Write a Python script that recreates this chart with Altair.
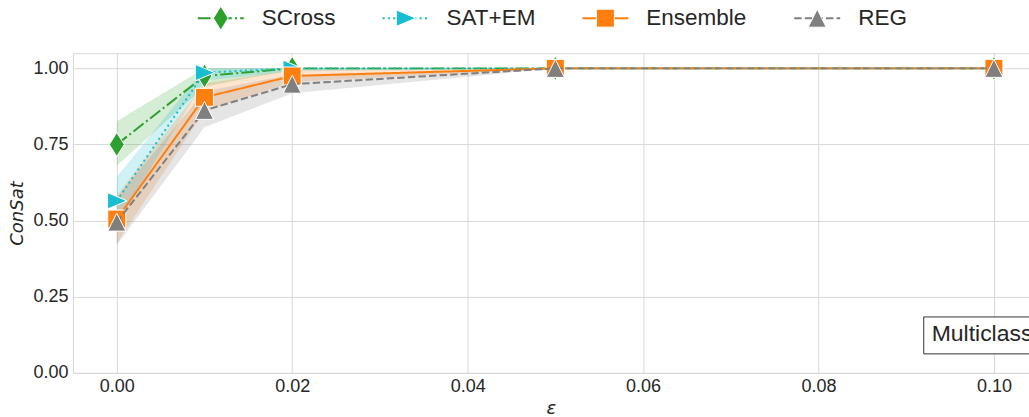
import altair as alt
import pandas as pd

# epsilon values on the x axis
eps = [0.0, 0.01, 0.02, 0.05, 0.10]

series = ["SCross", "SAT+EM", "Ensemble", "REG"]
colors = ["#2ca02c", "#17becf", "#ff7f0e", "#7f7f7f"]

# mean ConSat and the lower / upper edge of the shaded interval
scross_mean = [0.750, 0.975, 1.000, 1.000, 1.000]
scross_lo = [0.680, 0.940, 0.995, 1.000, 1.000]
scross_hi = [0.826, 1.000, 1.000, 1.000, 1.000]

satem_mean = [0.565, 0.986, 1.000, 1.000, 1.000]
satem_lo = [0.490, 0.960, 0.990, 1.000, 1.000]
satem_hi = [0.643, 1.000, 1.000, 1.000, 1.000]

ensemble_mean = [0.505, 0.905, 0.975, 1.000, 1.000]
ensemble_lo = [0.426, 0.860, 0.955, 1.000, 1.000]
ensemble_hi = [0.584, 0.950, 0.995, 1.000, 1.000]

reg_mean = [0.495, 0.862, 0.948, 1.000, 1.000]
reg_lo = [0.420, 0.807, 0.918, 1.000, 1.000]
reg_hi = [0.575, 0.925, 0.980, 1.000, 1.000]

means = [scross_mean, satem_mean, ensemble_mean, reg_mean]
los = [scross_lo, satem_lo, ensemble_lo, reg_lo]
his = [scross_hi, satem_hi, ensemble_hi, reg_hi]

# line dash pattern and marker path per series
dashes = [[12.8, 3.2, 2, 3.2], [2, 3.3], [1, 0], [7.4, 3.2]]
shapes = [
    "M0,-1L0.62,0L0,1L-0.62,0Z",
    "M1,0L-0.9,-0.8L-0.9,0.8Z",
    "square",
    "M0,-1L1,1L-1,1Z",
]
sizes = [576, 420, 324, 324]

# legend entry start offsets (pixels from the plot's left edge)
legend_starts = [125, 310, 510, 722]

rows = []
for name, m, lo, hi in zip(series, means, los, his):
    for e, a, b, c in zip(eps, m, lo, hi):
        rows.append({"eps": e, "series": name, "mean": a, "lo": b, "hi": c})
df = pd.DataFrame(rows)

FONT = "Liberation Sans"
TXT = "#262626"
GRID = "#d9d9d9"

x_scale = alt.Scale(domain=[-0.005, 0.104], nice=False, zero=False)
y_scale = alt.Scale(domain=[0, 1.05], nice=False)

x_axis = alt.Axis(
    values=[0.0, 0.02, 0.04, 0.06, 0.08, 0.10], format=".2f", title="ε",
    titleFont="DejaVu Sans", titleFontStyle="italic", titleFontWeight="normal",
    titleFontSize=18, titleColor=TXT, titlePadding=4,
    labelFont=FONT, labelFontSize=18, labelColor=TXT, labelPadding=5,
    ticks=False, domain=False, grid=True, gridColor=GRID, gridWidth=1,
)
y_axis = alt.Axis(
    values=[0.0, 0.25, 0.5, 0.75, 1.0], format=".2f", title="ConSat",
    titleFont="DejaVu Sans", titleFontStyle="italic", titleFontWeight="normal",
    titleFontSize=18, titleColor=TXT, titlePadding=6,
    labelFont=FONT, labelFontSize=18, labelColor=TXT, labelPadding=5,
    ticks=False, domain=False, grid=True, gridColor=GRID, gridWidth=1,
)

color_scale = alt.Scale(domain=series, range=colors)

bands = alt.Chart(df).mark_area(opacity=0.2).encode(
    x=alt.X("eps:Q", scale=x_scale, axis=x_axis),
    y=alt.Y("lo:Q", scale=y_scale, axis=y_axis),
    y2="hi:Q",
    color=alt.Color("series:N", scale=color_scale, legend=None),
    detail="series:N",
)

layers = [bands]
for name, col, dash, shp, sz in zip(series, colors, dashes, shapes, sizes):
    sub = df[df["series"] == name]
    base = alt.Chart(sub).encode(x=alt.X("eps:Q", scale=x_scale), y=alt.Y("mean:Q", scale=y_scale))
    layers.append(base.mark_line(color=col, strokeWidth=2, strokeDash=dash))
    layers.append(base.mark_point(shape=shp, size=sz, filled=True, fill=col, opacity=1,
                                  stroke="white", strokeWidth=1))

# legend row above the plot
LEG_Y = -35
for name, col, dash, shp, sz, s in zip(series, colors, dashes, shapes, sizes, legend_starts):
    one = pd.DataFrame({"label": [name]})
    c = alt.Chart(one)
    layers.append(c.mark_rule(color=col, strokeWidth=2, strokeDash=dash).encode(
        x=alt.value(s), x2=alt.value(s + 46), y=alt.value(LEG_Y)))
    layers.append(c.mark_point(shape=shp, size=sz, filled=True, fill=col, opacity=1,
                               stroke="white", strokeWidth=1).encode(
        x=alt.value(s + 23), y=alt.value(LEG_Y)))
    layers.append(c.mark_text(align="left", baseline="middle", font=FONT, fontSize=22.5,
                              color=TXT).encode(
        x=alt.value(s + 64), y=alt.value(LEG_Y), text="label:N"))

# boxed annotation in the lower right corner
box_x = [0.0920]
box_x2 = [0.1200]
box_y = [0.0623]
box_y2 = [0.1836]
label_x = [0.0929]
label_y = [0.1275]
box_df = pd.DataFrame({"x": box_x, "x2": box_x2, "y": box_y, "y2": box_y2,
                       "lx": label_x, "ly": label_y, "t": ["Multiclass"]})
layers.append(alt.Chart(box_df).mark_rect(fill="white", stroke="#333333", strokeWidth=1).encode(
    x=alt.X("x:Q", scale=x_scale), x2="x2:Q",
    y=alt.Y("y:Q", scale=y_scale), y2="y2:Q"))
layers.append(alt.Chart(box_df).mark_text(align="left", baseline="middle", font=FONT,
                                          fontSize=23, color=TXT).encode(
    x=alt.X("lx:Q", scale=x_scale), y=alt.Y("ly:Q", scale=y_scale), text="t:N"))

chart = alt.layer(*layers).properties(
    width=957, height=320,
    autosize=alt.AutoSizeParams(type="none"),
    padding={"left": 73, "top": 53, "right": 0, "bottom": 44},
    background="white",
).configure_view(stroke=GRID, strokeWidth=1)

chart.save("out.html", embed_options={"renderer": "svg", "actions": False})
